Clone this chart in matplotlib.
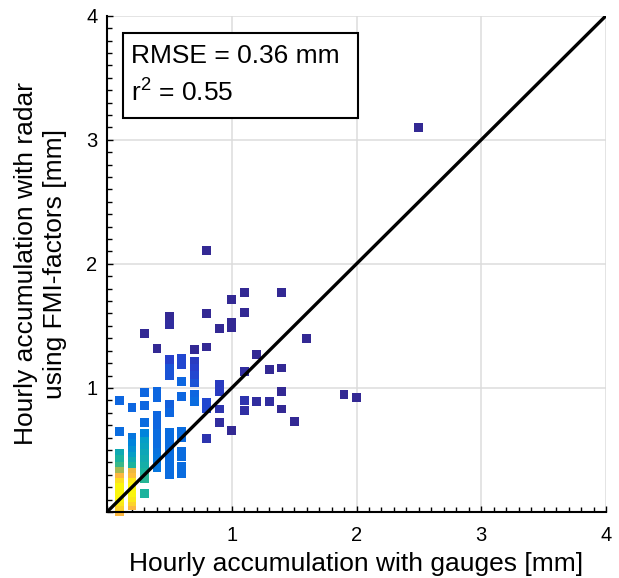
import matplotlib
matplotlib.use('Agg')
import matplotlib.pyplot as plt
import numpy as np
from matplotlib.colors import LinearSegmentedColormap
from matplotlib.patches import Rectangle
from matplotlib.ticker import MultipleLocator

plt.rcParams['font.family'] = ['Liberation Sans', 'DejaVu Sans']
plt.rcParams['mathtext.fontset'] = 'custom'
plt.rcParams['mathtext.rm'] = 'Liberation Sans'
plt.rcParams['mathtext.it'] = 'Liberation Sans:italic'

# ---- data (gauge [mm], radar [mm], relative point density) ----
gauge_mm = (
    [0.1] * 14 + [0.2] * 15 + [0.3] * 13 + [0.4] * 13 + [0.5] * 14 + [0.6] * 10 +
    [0.7] * 7 + [0.8] * 6 + [0.9] * 5 + [1.0] * 4 + [1.1] * 5 + [1.2] * 2 +
    [1.3] * 2 + [1.4] * 4 + [1.5] + [1.6] + [1.9] + [2.0] + [2.5]
)
radar_mm = [
    0.90, 0.65, 0.47, 0.42, 0.37, 0.33, 0.28, 0.24, 0.20, 0.16, 0.12, 0.08, 0.04, 0.00,
    0.84, 0.60, 0.55, 0.50, 0.45, 0.41, 0.37, 0.32, 0.28, 0.24, 0.20, 0.16, 0.12, 0.08, 0.05,
    1.44, 0.96, 0.86, 0.72, 0.63, 0.57, 0.52, 0.47, 0.42, 0.37, 0.32, 0.27, 0.15,
    1.32, 0.97, 0.92, 0.78, 0.73, 0.68, 0.63, 0.58, 0.53, 0.48, 0.43, 0.38, 0.36,
    1.58, 1.51, 1.23, 1.16, 1.10, 0.87, 0.80, 0.64, 0.58, 0.52, 0.46, 0.40, 0.34, 0.30,
    1.24, 1.19, 1.05, 0.93, 0.65, 0.60, 0.49, 0.45, 0.37, 0.31,
    1.31, 1.21, 1.16, 1.10, 1.04, 0.95, 0.89,
    2.11, 1.60, 1.33, 0.88, 0.83, 0.59,
    1.48, 1.03, 0.97, 0.83, 0.72,
    1.71, 1.53, 1.49, 0.66,
    1.77, 1.61, 1.13, 0.90, 0.82,
    1.27, 0.89,
    1.15, 0.89,
    1.77, 1.16, 0.97, 0.83,
    0.73,
    1.40,
    0.95,
    0.92,
    3.10,
]
density = [
    0.20, 0.22, 0.45, 0.50, 0.55, 0.68, 0.80, 0.92, 1.00, 1.00, 1.00, 0.95, 0.88, 0.80,
    0.20, 0.25, 0.30, 0.35, 0.40, 0.45, 0.50, 0.78, 0.82, 0.95, 1.00, 1.00, 0.95, 0.88, 0.80,
    0.00, 0.20, 0.20, 0.22, 0.30, 0.40, 0.42, 0.44, 0.46, 0.48, 0.50, 0.52, 0.50,
    0.00, 0.20, 0.20, 0.20, 0.20, 0.20, 0.22, 0.22, 0.22, 0.24, 0.25, 0.25, 0.25,
    0.00, 0.02, 0.10, 0.15, 0.15, 0.18, 0.20, 0.22, 0.22, 0.22, 0.22, 0.22, 0.22, 0.22,
    0.12, 0.12, 0.20, 0.20, 0.22, 0.22, 0.22, 0.22, 0.22, 0.22,
    0.00, 0.08, 0.10, 0.12, 0.15, 0.20, 0.22,
    0.00, 0.00, 0.00, 0.12, 0.12, 0.05,
    0.00, 0.08, 0.08, 0.05, 0.02,
    0.00, 0.00, 0.00, 0.00,
    0.00, 0.00, 0.02, 0.05, 0.03,
    0.00, 0.02,
    0.00, 0.02,
    0.00, 0.00, 0.00, 0.00,
    0.00,
    0.00,
    0.00,
    0.00,
    0.00,
]
rmse_text = 'RMSE = 0.36 mm'
r2_text = 'r$^2$ = 0.55'
xlabel = 'Hourly accumulation with gauges [mm]'
ylabel = 'Hourly accumulation with radar\nusing FMI-factors [mm]'
tick_vals = [0, 1, 2, 3, 4]
tick_labels = ['', '1', '2', '3', '4']

# parula-like colormap
parula = LinearSegmentedColormap.from_list('parula_like', [
    (0.00, (0.20, 0.16, 0.58)),
    (0.10, (0.15, 0.25, 0.80)),
    (0.20, (0.05, 0.40, 0.88)),
    (0.30, (0.00, 0.52, 0.86)),
    (0.40, (0.02, 0.62, 0.78)),
    (0.50, (0.10, 0.70, 0.62)),
    (0.60, (0.35, 0.74, 0.45)),
    (0.70, (0.70, 0.72, 0.30)),
    (0.80, (0.99, 0.72, 0.25)),
    (0.90, (0.99, 0.85, 0.15)),
    (1.00, (0.98, 0.96, 0.05)),
])

W, H = 619, 578
fig = plt.figure(figsize=(W / 100, H / 100), dpi=100)
ax = fig.add_axes([107 / W, (H - 512) / H, (606 - 107) / W, (512 - 15.7) / H])

g = np.array(gauge_mm)
r = np.array(radar_mm)
d = np.array(density)
order = np.argsort(d, kind='stable')
ax.scatter(g[order], r[order], c=d[order], cmap=parula, vmin=0, vmax=1,
           marker='s', s=40, linewidths=0, zorder=3, clip_on=False)

ax.plot([0, 4], [0, 4], color='black', lw=2.4, zorder=4, solid_capstyle='butt')

ax.set_xlim(0, 4)
ax.set_ylim(0, 4)
ax.set_xticks(tick_vals)
ax.set_xticklabels(tick_labels)
ax.set_yticks(tick_vals)
ax.set_yticklabels(tick_labels)
ax.xaxis.set_minor_locator(MultipleLocator(0.1))
ax.yaxis.set_minor_locator(MultipleLocator(0.1))
ax.tick_params(which='both', direction='in', width=1.0, color='black',
               top=False, right=False)
ax.tick_params(which='major', length=4.5, labelsize=14.5)
ax.tick_params(axis='x', which='major', pad=10)
ax.tick_params(axis='y', which='major', pad=7)
ax.tick_params(which='minor', length=3.5)

ax.grid(True, which='major', color='#dcdcdc', lw=1.1, zorder=0)
ax.set_axisbelow(True)
for side in ['top', 'right']:
    ax.spines[side].set_visible(False)
for side in ['left', 'bottom']:
    ax.spines[side].set_linewidth(1.5)
    ax.spines[side].set_zorder(5)

ax.set_xlabel(xlabel, fontsize=19, labelpad=5)
ax.set_ylabel(ylabel, fontsize=19, labelpad=14, linespacing=1.25)

box = Rectangle((0.128, 3.175), 2.01 - 0.128, 3.86 - 3.175, facecolor='white',
                edgecolor='black', lw=1.5, zorder=6)
ax.add_patch(box)
ax.text(0.19, 3.62, rmse_text, fontsize=19, zorder=7, va='baseline')
ax.text(0.19, 3.31, r2_text, fontsize=19, zorder=7, va='baseline')

fig.savefig('out.png', dpi=100)
